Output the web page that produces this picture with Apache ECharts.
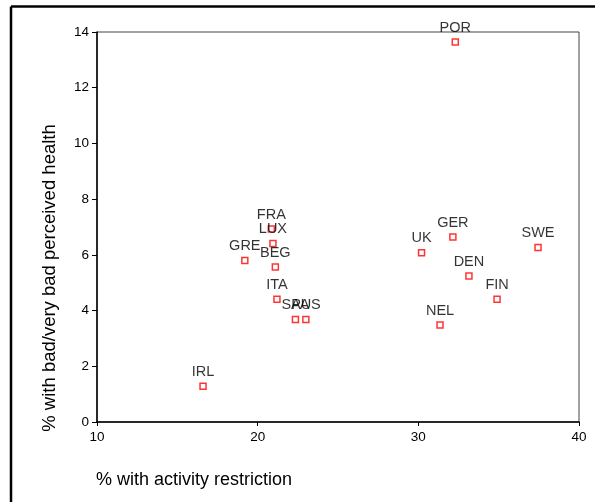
<!DOCTYPE html>
<html>
<head>
<meta charset="utf-8">
<script src="https://cdn.jsdelivr.net/npm/echarts@6/dist/echarts.min.js"></script>
<style>
html,body{margin:0;padding:0;background:#fff;}
#chart{width:595px;height:502px;}
</style>
</head>
<body>
<div id="chart"></div>
<script>
var countries = ["IRL","POR","FRA","LUX","GRE","BEG","ITA","SPA","AUS","GER","UK","SWE","DEN","FIN","NEL"];
var activityRestriction = [16.6, 32.3, 20.85, 20.95, 19.2, 21.1, 21.2, 22.35, 23.0, 32.15, 30.2, 37.45, 33.15, 34.9, 31.35];
var badHealth = [1.28, 13.64, 6.93, 6.41, 5.80, 5.56, 4.41, 3.68, 3.68, 6.64, 6.08, 6.26, 5.24, 4.41, 3.48];
var xTicks = [10, 20, 30, 40];
var yTicks = [0, 2, 4, 6, 8, 10, 12, 14];

var font = '"Liberation Sans", Arial, sans-serif';
var points = countries.map(function (c, i) { return [activityRestriction[i], badHealth[i], c]; });

var chart = echarts.init(document.getElementById('chart'), null, {renderer: 'canvas'});
chart.setOption({
  animation: false,
  backgroundColor: '#ffffff',
  grid: {left: 97, top: 32, right: 16, bottom: 80, show: true, borderColor: '#444', borderWidth: 1, backgroundColor: 'transparent'},
  xAxis: {
    type: 'value', min: xTicks[0], max: xTicks[xTicks.length - 1], interval: 10,
    axisLine: {show: true, onZero: false, lineStyle: {color: '#000', width: 1.5}},
    axisTick: {show: true, length: 4, lineStyle: {color: '#000'}},
    axisLabel: {color: '#000', fontSize: 13.5, fontFamily: font, margin: 8},
    splitLine: {show: false}
  },
  yAxis: {
    type: 'value', min: yTicks[0], max: yTicks[yTicks.length - 1], interval: 2,
    axisLine: {show: true, onZero: false, lineStyle: {color: '#000', width: 1.5}},
    axisTick: {show: true, length: 5, lineStyle: {color: '#000'}},
    axisLabel: {color: '#000', fontSize: 13.5, fontFamily: font, margin: 8},
    splitLine: {show: false}
  },
  graphic: [
    {type: 'line', shape: {x1: 11, y1: 6.5, x2: 595, y2: 6.5}, style: {stroke: '#000', lineWidth: 2.5}},
    {type: 'line', shape: {x1: 11, y1: 6.5, x2: 11, y2: 502}, style: {stroke: '#000', lineWidth: 2.5}},
    {type: 'text', left: 96, top: 471, style: {text: '% with activity restriction', font: '18px ' + font, fill: '#000'}},
    {type: 'text', x: 49.5, y: 278, rotation: Math.PI / 2, style: {text: '% with bad/very bad perceived health', font: '18.5px ' + font, fill: '#000', align: 'center', verticalAlign: 'middle'}}
  ],
  series: [{
    type: 'scatter',
    data: points,
    symbol: 'rect',
    symbolSize: 6,
    itemStyle: {color: '#fff', borderColor: '#ff0000', borderWidth: 1.5},
    label: {
      show: true, position: 'top', distance: 3,
      formatter: function (p) { return p.data[2]; },
      color: '#000', fontSize: 14.5, fontFamily: font
    }
  }]
});
</script>
</body>
</html>
